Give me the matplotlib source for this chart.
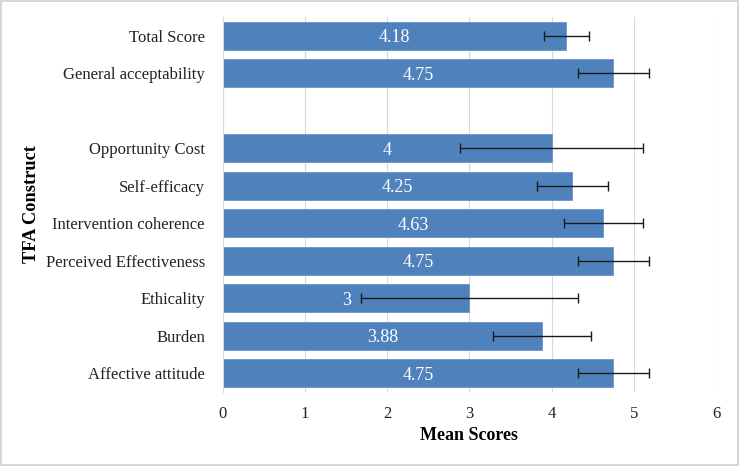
import matplotlib
matplotlib.use("Agg")
import matplotlib.pyplot as plt
import numpy as np

categories = ["Affective attitude", "Burden", "Ethicality", "Perceived Effectiveness",
              "Intervention coherence", "Self-efficacy", "Opportunity Cost", "",
              "General acceptability", "Total Score"]
means = [4.75, 3.88, 3.0, 4.75, 4.63, 4.25, 4.0, np.nan, 4.75, 4.18]
errors = [0.43, 0.60, 1.32, 0.43, 0.48, 0.43, 1.11, np.nan, 0.43, 0.27]
labels = ["4.75", "3.88", "3", "4.75", "4.63", "4.25", "4", "", "4.75", "4.18"]
xticks = [0, 1, 2, 3, 4, 5, 6]

plt.rcParams['font.family'] = ['Liberation Serif', 'DejaVu Serif']

fig = plt.figure(figsize=(7.39, 4.66), dpi=100)
ax = fig.add_axes([223/739, 1-392/466, (716-223)/739, (392-17)/466])

y = np.arange(len(categories))
ax.barh(y, means, height=0.75, color="#4F81BD", edgecolor="#6A95C8", linewidth=0.6, zorder=2)
ax.errorbar(means, y, xerr=errors, fmt="none", ecolor="#1a1a1a", elinewidth=1.0,
            capsize=3.5, capthick=1.0, zorder=3)

for yi, m, lab in zip(y, means, labels):
    if lab:
        ax.text(m/2, yi, lab, ha="center", va="center_baseline", color="white",
                fontsize=13, zorder=4)

ax.set_xlim(0, 6)
ax.set_ylim(-0.5, len(categories)-0.5)
ax.set_xticks(xticks)
ax.set_xticklabels([str(t) for t in xticks])
ax.set_yticks(y)
ax.set_yticklabels(categories)
ax.tick_params(axis="both", length=0, labelsize=12, colors="#222222")
ax.tick_params(axis="x", pad=10)
ax.tick_params(axis="y", pad=13)
ax.xaxis.grid(True, color="#d9d9d9", linewidth=0.8, zorder=0)
ax.set_axisbelow(True)
for s in ["top", "right", "bottom"]:
    ax.spines[s].set_visible(False)
ax.spines["left"].set_color("#d9d9d9")
ax.spines["left"].set_linewidth(0.8)

ax.set_xlabel("Mean Scores", fontsize=13, fontweight="bold", labelpad=4)
ax.set_ylabel("TFA Construct", fontsize=13.2, fontweight="bold")
ax.yaxis.set_label_coords(-0.371, 0.5, transform=ax.transAxes)

fig.patches.append(plt.Rectangle((0.002, 0.003), 0.996, 0.994, transform=fig.transFigure,
                                 fill=False, edgecolor="#d0d0d0", linewidth=1.2))

fig.savefig("out.png", dpi=100)
